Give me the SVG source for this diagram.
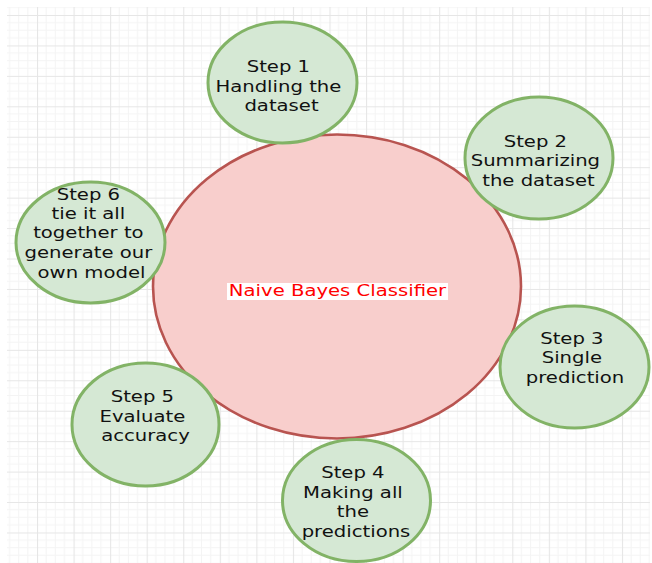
<svg xmlns="http://www.w3.org/2000/svg" width="652" height="563" viewBox="0 0 652 563">
  <style>
    .step { fill: #d5e8d4; stroke: #82b366; stroke-width: 3; }
    .hub { fill: #f8cecc; stroke: #b85450; stroke-width: 2.6; }
    .lbl { font-family: "DejaVu Sans", Verdana, sans-serif; font-size: 16.5px; fill: #111; text-anchor: middle; }
    .hub-lbl { font-family: "DejaVu Sans", Verdana, sans-serif; font-size: 16.5px; fill: #ff0000; text-anchor: middle; }
  </style>
  <defs>
    <!-- drawing grid: one major cell with three minor subdivisions each way -->
    <pattern id="grid" patternUnits="userSpaceOnUse" x="37" y="15" width="36.56" height="30.44">
      <g stroke="#f4f4f4" stroke-width="1">
        <line x1="9.14" y1="0" x2="9.14" y2="30.44"/>
        <line x1="18.28" y1="0" x2="18.28" y2="30.44"/>
        <line x1="27.42" y1="0" x2="27.42" y2="30.44"/>
        <line x1="0" y1="7.61" x2="36.56" y2="7.61"/>
        <line x1="0" y1="15.22" x2="36.56" y2="15.22"/>
        <line x1="0" y1="22.83" x2="36.56" y2="22.83"/>
      </g>
      <g stroke="#e6e6e6" stroke-width="1.2">
        <line x1="0.5" y1="0" x2="0.5" y2="30.44"/>
        <line x1="0" y1="0.5" x2="36.56" y2="0.5"/>
      </g>
    </pattern>
  </defs>

  <rect width="652" height="563" fill="#ffffff"/>
  <rect x="7" y="7" width="643" height="556" fill="url(#grid)"/>

  <g id="connectors"/>

  <g id="hub">
    <ellipse class="hub" cx="337" cy="286.5" rx="184" ry="152"/>
    <rect x="227" y="283" width="221" height="17" fill="#ffffff"/>
    <text class="hub-lbl" transform="translate(337.5 0) scale(1.19 1)" x="0" y="296">Naive Bayes Classifier</text>
  </g>

  <g id="step1">
    <ellipse class="step" cx="282.5" cy="82.5" rx="74.5" ry="60.5"/>
    <text class="lbl" transform="translate(281.5 0) scale(1.19 1)">
      <tspan x="0" y="72">Step 1</tspan>
      <tspan x="0" y="92">Handling the</tspan>
      <tspan x="0" y="111">dataset</tspan>
    </text>
  </g>

  <g id="step2">
    <ellipse class="step" cx="539" cy="158" rx="74" ry="61"/>
    <text class="lbl" transform="translate(538.5 0) scale(1.19 1)">
      <tspan x="0" y="147">Step 2</tspan>
      <tspan x="0" y="166.5">Summarizing</tspan>
      <tspan x="0" y="186">the dataset</tspan>
    </text>
  </g>

  <g id="step3">
    <ellipse class="step" cx="574.5" cy="367" rx="74.5" ry="61"/>
    <text class="lbl" transform="translate(575 0) scale(1.19 1)">
      <tspan x="0" y="344">Step 3</tspan>
      <tspan x="0" y="363.5">Single</tspan>
      <tspan x="0" y="383">prediction</tspan>
    </text>
  </g>

  <g id="step4">
    <ellipse class="step" cx="356.5" cy="500.5" rx="74" ry="61"/>
    <text class="lbl" transform="translate(356 0) scale(1.19 1)">
      <tspan x="0" y="478">Step 4</tspan>
      <tspan x="0" y="498">Making all</tspan>
      <tspan x="0" y="517">the</tspan>
      <tspan x="0" y="537">predictions</tspan>
    </text>
  </g>

  <g id="step5">
    <ellipse class="step" cx="145.5" cy="424.5" rx="73.5" ry="61.5"/>
    <text class="lbl" transform="translate(145.5 0) scale(1.19 1)">
      <tspan x="0" y="402">Step 5</tspan>
      <tspan x="0" y="422">Evaluate</tspan>
      <tspan x="0" y="441">accuracy</tspan>
    </text>
  </g>

  <g id="step6">
    <ellipse class="step" cx="90.5" cy="242.5" rx="74.5" ry="60.5"/>
    <text class="lbl" transform="translate(91.5 0) scale(1.19 1)">
      <tspan x="0" y="200">Step 6</tspan>
      <tspan x="0" y="219">tie it all</tspan>
      <tspan x="0" y="238.5">together to</tspan>
      <tspan x="0" y="258">generate our</tspan>
      <tspan x="0" y="278">own model</tspan>
    </text>
  </g>
</svg>
